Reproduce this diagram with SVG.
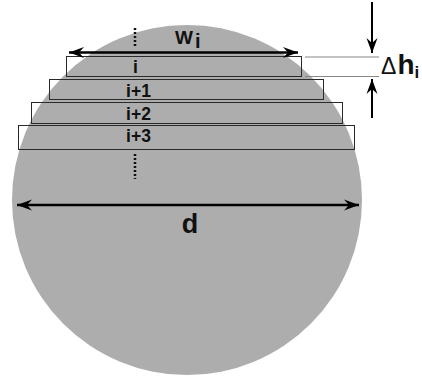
<svg xmlns="http://www.w3.org/2000/svg" width="422" height="379" viewBox="0 0 422 379">
<style>
.slice{fill:none;stroke:#2a2a2a;stroke-width:1}
.lbl{font-family:"Liberation Sans",Arial,sans-serif;font-weight:bold;fill:#111;text-anchor:middle}
.dim{stroke:#000;stroke-width:2.5;fill:none}
.ref{stroke:#888;stroke-width:1.2}
.dots{stroke:#111;stroke-width:2.5;stroke-dasharray:2 2}
</style>
<defs>
<marker id="ah" markerUnits="userSpaceOnUse" viewBox="-16 -6 17 12" refX="0" refY="0" markerWidth="17" markerHeight="12" orient="auto-start-reverse">
<path d="M0,0 L-15,-5.5 L-10,0 L-15,5.5 Z" fill="#000"/>
</marker>
</defs>
<rect width="422" height="379" fill="#fff"/>
<g id="disk"><circle cx="187" cy="200" r="175" fill="#adadad"/></g>
<g id="slice-i"><rect class="slice" x="66.5" y="56.5" width="235" height="20"/><text class="lbl" x="135.5" y="73" font-size="17.5">i</text></g>
<g id="slice-i1"><rect class="slice" x="49.5" y="79.5" width="274" height="20"/><text class="lbl" x="138.5" y="97" font-size="17.5">i+1</text></g>
<g id="slice-i2"><rect class="slice" x="31.5" y="102.5" width="311" height="21"/><text class="lbl" x="138.5" y="120" font-size="17.5">i+2</text></g>
<g id="slice-i3"><rect class="slice" x="18.5" y="125.5" width="336" height="24"/><text class="lbl" x="138.5" y="142" font-size="17.5">i+3</text></g>
<g id="connectors">
<line class="dots" x1="135" y1="28" x2="135" y2="47"/>
<line class="dots" x1="135" y1="154" x2="135" y2="179"/>
<line class="dim" x1="69" y1="52.5" x2="298" y2="52.5" marker-start="url(#ah)" marker-end="url(#ah)"/>
<line class="dim" x1="17" y1="205" x2="359" y2="205" marker-start="url(#ah)" marker-end="url(#ah)"/>
<line class="ref" x1="305" y1="57" x2="379" y2="57"/>
<line class="ref" x1="305" y1="76.5" x2="379" y2="76.5"/>
<line stroke="#000" stroke-width="2" x1="372" y1="2" x2="372" y2="53" marker-end="url(#ah)"/>
<line stroke="#000" stroke-width="2" x1="372" y1="118" x2="372" y2="79" marker-end="url(#ah)"/>
</g>
<g id="label-w"><text x="175" y="44" font-family="Liberation Sans,Arial,sans-serif" font-weight="bold" font-size="19" fill="#111">W<tspan font-size="20" dx="2" dy="4">i</tspan></text></g>
<g id="label-d"><text class="lbl" x="190" y="233" font-size="27">d</text></g>
<g id="label-dh"><text x="381" y="74" font-family="Liberation Sans,Arial,sans-serif" font-size="23" fill="#111">Δ<tspan font-weight="bold" font-size="28" dx="1">h</tspan><tspan font-weight="bold" font-size="17" dy="4">i</tspan></text></g>
</svg>
